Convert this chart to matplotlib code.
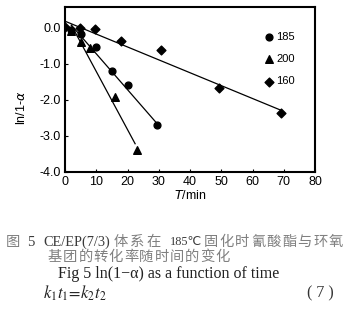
import matplotlib
matplotlib.use('Agg')
from matplotlib import pyplot as plt
import numpy as np

plt.rcParams['font.family'] = ['Liberation Sans', 'DejaVu Sans']

# measured points, ln(1-alpha) vs time (min)
t_185 = [2, 5, 10, 15, 20, 29.5]
y_185 = [-0.08, -0.18, -0.53, -1.2, -1.6, -2.7]
t_200 = [1.8, 5, 8, 16, 23]
y_200 = [-0.09, -0.41, -0.56, -1.94, -3.4]
t_160 = [0, 4.8, 9.6, 17.8, 30.7, 49.2, 69.2]
y_160 = [0.0, -0.01, -0.04, -0.37, -0.63, -1.69, -2.36]

# fitted straight lines (end points)
fit_185_t = [2, 29]
fit_185_y = [0.06, -2.62]
fit_200_t = [2, 22.4]
fit_200_y = [0.06, -3.22]
fit_160_t = [0, 69]
fit_160_y = [0.17, -2.29]

labels = ['185', '200', '160']

W, H = 356, 325
fig = plt.figure(figsize=(W / 100, H / 100), dpi=100)
ax = fig.add_axes([0.183, 0.471, 0.702, 0.507])

ax.plot(fit_185_t, fit_185_y, c='k', lw=0.9)
ax.plot(fit_200_t, fit_200_y, c='k', lw=0.9)
ax.plot(fit_160_t, fit_160_y, c='k', lw=0.9)
ax.scatter(t_185, y_185, c='k', marker='o', s=24, label=labels[0], zorder=3)
ax.scatter(t_200, y_200, c='k', marker='^', s=30, label=labels[1], zorder=3)
ax.scatter(t_160, y_160, c='k', marker='D', s=20, label=labels[2], zorder=3)

ax.set_xlim(0, 80)
ax.set_ylim(-4.0, 0.56)
ax.set_xticks(np.arange(0, 81, 10))
ax.set_yticks([0, -1, -2, -3, -4])
ax.set_yticklabels(['0.0', '-1.0', '-2.0', '-3.0', '-4.0'])
ax.tick_params(direction='in', length=2, labelsize=9, pad=3)
for s in ax.spines.values():
    s.set_linewidth(1.5)

ax.set_xlabel(r'$\it{T}$/min', fontsize=9, labelpad=1)
ax.set_ylabel(r'ln/1-$\alpha$', fontsize=9)
ax.yaxis.set_label_coords(-0.15, 0.39)

ax.legend(loc='upper right', bbox_to_anchor=(0.96, 0.91), frameon=False,
          fontsize=8, handletextpad=0.1, labelspacing=1.1,
          handlelength=1.2)

cn = ['Noto Sans CJK SC', 'DejaVu Sans']
serif = ['Liberation Serif', 'DejaVu Serif']
light = '#808080'
dark = '#3a3a3a'


def put(x, y, s, **kw):
    fig.text(x / W, 1 - y / H, s, va='center', **kw)


def spaced(x0, y, s, pitch, **kw):
    # lay out CJK characters one by one with a fixed pitch
    for i, ch in enumerate(s):
        put(x0 + i * pitch, y, ch, **kw)


# caption, Chinese
put(6, 242, '图', family=cn, fontsize=10.3, color=light)
put(27, 242, '5', family=serif, fontsize=10.5, color=dark)
put(43, 242, 'CE/EP(7/3)', family=serif, fontsize=10.3, color=dark)
spaced(114, 242, '体系在', 16, family=cn, fontsize=10.3, color=light)
put(170, 242, '185℃', family=['Liberation Serif', 'DejaVu Sans'],
    fontsize=8.8, color=dark)
spaced(204, 242, '固化时氰酸酯与环氧', 15.6, family=cn, fontsize=10.3, color=light)
spaced(48, 256.5, '基团的转化率随时间的变化', 15.2, family=cn, fontsize=10.3, color=light)

# caption, English
put(58, 273.5, 'Fig 5 ln(1\u2212\u03b1) as a function of time',
    family=serif, fontsize=11.5, color='#222222')
put(43, 293, r'$k_1t_1\!=\!k_2t_2$', fontsize=12, color='#222222',
    math_fontfamily='stix')
put(307, 293, '( 7 )', family=serif, fontsize=11.5, color='#333333')

fig.savefig('out.png', dpi=100)
